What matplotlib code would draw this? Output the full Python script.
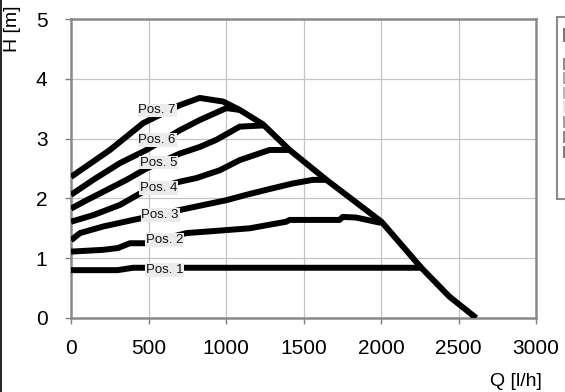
import matplotlib
matplotlib.use("Agg")
import matplotlib.pyplot as plt
from matplotlib.patches import Rectangle
from matplotlib.lines import Line2D

plt.rcParams['font.family'] = ['Liberation Sans', 'DejaVu Sans']

# Data: Q [l/h], H [m] per position
pos1_q = [0, 300, 400, 2270]
pos1_h = [0.80, 0.80, 0.84, 0.84]

pos2_q = [0, 207, 303, 380, 487, 745, 1002, 1153, 1217, 1324, 1389, 1410, 1732, 1753, 1839, 2000]
pos2_h = [1.11, 1.14, 1.17, 1.25, 1.25, 1.42, 1.47, 1.50, 1.53, 1.58, 1.61, 1.64, 1.64, 1.69, 1.68, 1.59]

pos3_q = [0, 58, 207, 401, 745, 1002, 1131, 1302, 1431, 1560, 1655]
pos3_h = [1.30, 1.42, 1.53, 1.64, 1.83, 1.97, 2.06, 2.17, 2.25, 2.31, 2.31]

pos4_q = [0, 143, 315, 464, 702, 809, 959, 1088, 1281, 1410]
pos4_h = [1.61, 1.72, 1.89, 2.11, 2.28, 2.34, 2.47, 2.64, 2.81, 2.81]

pos5_q = [0, 101, 207, 358, 487, 702, 830, 938, 1088, 1238]
pos5_h = [1.83, 1.97, 2.11, 2.31, 2.50, 2.75, 2.86, 2.98, 3.20, 3.22]

pos6_q = [0, 143, 315, 487, 702, 830, 1002, 1088]
pos6_h = [2.06, 2.31, 2.59, 2.81, 3.14, 3.31, 3.51, 3.48]

pos7_q = [0, 251, 466, 702, 830, 981, 1088, 1238, 1410, 1648, 2003, 2260, 2440, 2614]
pos7_h = [2.36, 2.81, 3.26, 3.56, 3.68, 3.62, 3.48, 3.24, 2.81, 2.31, 1.61, 0.84, 0.36, 0.00]

labels = ["Pos. 1", "Pos. 2", "Pos. 3", "Pos. 4", "Pos. 5", "Pos. 6", "Pos. 7"]
label_q = [605, 605, 575, 565, 565, 555, 555]
label_h = [0.80, 1.30, 1.72, 2.17, 2.60, 2.98, 3.47]

x_ticks = [0, 500, 1000, 1500, 2000, 2500, 3000]
y_ticks = [0, 1, 2, 3, 4, 5]

fig = plt.figure(figsize=(5.65, 3.92), dpi=100)
ax = fig.add_axes([0.1257, 0.1888, 0.9487 - 0.1257, 0.9515 - 0.1888])

series = [(pos1_q, pos1_h), (pos2_q, pos2_h), (pos3_q, pos3_h), (pos4_q, pos4_h),
          (pos5_q, pos5_h), (pos6_q, pos6_h), (pos7_q, pos7_h)]
for q, h in series:
    ax.plot(q, h, color='black', linewidth=4.3, solid_joinstyle='round',
            solid_capstyle='butt', zorder=3)

for lab, q, h in zip(labels, label_q, label_h):
    ax.text(q, h, lab, fontsize=9.5, ha='center', va='center', color='#111111',
            bbox=dict(facecolor='#ebebeb', edgecolor='none', pad=0.6), zorder=5)

ax.set_xlim(0, 3000)
ax.set_ylim(0, 5)
ax.set_xticks(x_ticks)
ax.set_yticks(y_ticks)
ax.tick_params(axis='both', labelsize=15, color='#808080', length=4, width=1,
               direction='out')
ax.tick_params(axis='x', pad=11)
ax.tick_params(axis='y', pad=13)
ax.grid(True, color='#c4c4c4', linewidth=0.9, zorder=0)
ax.set_axisbelow(True)
for s in ax.spines.values():
    s.set_color('#8a8a8a')
    s.set_linewidth(1.8)

fig.text(516 / 565, 1 - 381 / 392, "Q [l/h]", fontsize=14, ha='center', va='center')
fig.text(12.5 / 565, 1 - 28.5 / 392, "H [m]", fontsize=14, ha='center', va='center', rotation=90)

# legend box (empty entries) at right edge
W, H = 565.0, 392.0
fig.patches.append(Rectangle((557 / W, 1 - 199 / H), 20 / W, 182 / H, transform=fig.transFigure,
                             facecolor='white', edgecolor='#8a8a8a', linewidth=1.5))
shades = ['#7a7a7a', '#8c8c8c', '#a8a8a8', '#b8b8b8', '#e4e4e4', '#a0a0a0', '#8a8a8a', '#7a7a7a']
ys = [28, 58, 72, 87, 101, 116, 131, 146]
hs = [14, 12, 12, 12, 12, 12, 12, 12]
for c, y0, hh in zip(shades, ys, hs):
    fig.patches.append(Rectangle((563 / W, 1 - (y0 + hh) / H), 4 / W, hh / H,
                                 transform=fig.transFigure, facecolor=c, edgecolor='none'))

# left border of the chart image
fig.lines.append(Line2D([1 / W, 1 / W], [0, 1], transform=fig.transFigure, color='black', linewidth=1.2))

fig.savefig("out.png", dpi=100)
